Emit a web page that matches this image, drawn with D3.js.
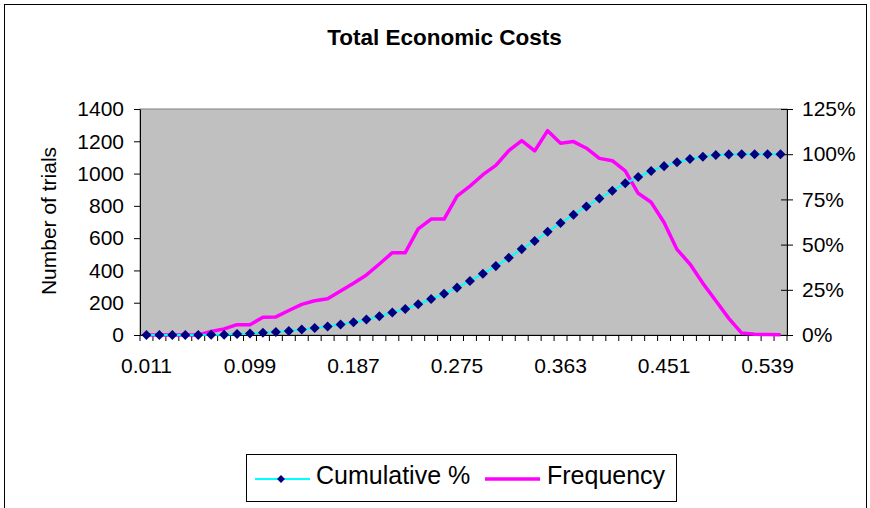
<!DOCTYPE html>
<html>
<head>
<meta charset="utf-8">
<script src="https://cdn.jsdelivr.net/npm/d3@7"></script>
<style>
  html, body { margin: 0; padding: 0; background: #fff; }
  svg { display: block; font-family: "Liberation Sans", Arial, sans-serif; }
</style>
</head>
<body>
<svg id="chart" width="870" height="508"></svg>
<script>
// Bin upper bounds (cost, in the model's units)
const categories = [
  "0.011","0.022","0.033","0.044","0.055","0.066","0.077","0.088","0.099","0.110",
  "0.121","0.132","0.143","0.154","0.165","0.176","0.187","0.198","0.209","0.220",
  "0.231","0.242","0.253","0.264","0.275","0.286","0.297","0.308","0.319","0.330",
  "0.341","0.352","0.363","0.374","0.385","0.396","0.407","0.418","0.429","0.440",
  "0.451","0.462","0.473","0.484","0.495","0.506","0.517","0.528","0.539","0.550"
];

// Number of trials falling in each bin
const frequency = [
  0, 0, 0, 0, 0, 22, 38, 64, 64, 110,
  112, 152, 190, 212, 224, 272, 320, 372, 440, 510,
  510, 657, 718, 718, 860, 922, 993, 1051, 1142, 1204,
  1140, 1266, 1188, 1198, 1157, 1094, 1080, 1016, 878, 822,
  697, 530, 440, 320, 212, 103, 12, 5, 3, 1
];

// Cumulative share of trials up to each bin
const cumulative = [
  0, 0, 0, 0, 0, 0.001, 0.002, 0.005, 0.008, 0.012,
  0.016, 0.022, 0.030, 0.039, 0.047, 0.058, 0.071, 0.086, 0.104, 0.124,
  0.144, 0.170, 0.199, 0.228, 0.262, 0.299, 0.339, 0.381, 0.427, 0.475,
  0.520, 0.571, 0.619, 0.665, 0.711, 0.755, 0.798, 0.839, 0.874, 0.907,
  0.934, 0.956, 0.973, 0.986, 0.995, 0.999, 1.0, 1.0, 1.0, 1.0
];

const leftTicks = [0, 200, 400, 600, 800, 1000, 1200, 1400];
const rightTicks = [0, 0.25, 0.5, 0.75, 1.0, 1.25];
const labelEvery = 8;

const svg = d3.select("#chart");
const plot = { left: 140, right: 787, top: 109, bottom: 335 };

// Outer chart frame
svg.append("rect")
  .attr("x", 4.5).attr("y", 4.5)
  .attr("width", 862).attr("height", 530)
  .attr("fill", "#fff").attr("stroke", "#000").attr("stroke-width", 1);

// Title
svg.append("text")
  .attr("x", 444.5).attr("y", 45)
  .attr("text-anchor", "middle")
  .attr("font-size", 22.5).attr("font-weight", "bold")
  .text("Total Economic Costs");

const x = d3.scaleBand().domain(categories).range([plot.left, plot.right]).padding(0);
const yLeft = d3.scaleLinear().domain([0, 1400]).range([plot.bottom, plot.top]);
const yRight = d3.scaleLinear().domain([0, 1.25]).range([plot.bottom, plot.top]);
const cx = d => x(d) + x.bandwidth() / 2;

// Plot area
svg.append("rect")
  .attr("x", plot.left).attr("y", plot.top)
  .attr("width", plot.right - plot.left).attr("height", plot.bottom - plot.top)
  .attr("fill", "#c0c0c0").attr("stroke", "#808080").attr("stroke-width", 1);

// Left axis: number of trials
const gl = svg.append("g")
  .attr("transform", `translate(${plot.left},0)`)
  .call(d3.axisLeft(yLeft).tickValues(leftTicks).tickFormat(d3.format("d"))
    .tickSize(6).tickSizeOuter(0).tickPadding(10));
gl.selectAll("text").attr("font-size", 21).attr("fill", "#000").attr("font-family", null);
gl.selectAll("line, path").attr("stroke", "#000");

// Right axis: cumulative percentage, ticks crossing the axis
const gr = svg.append("g")
  .attr("transform", `translate(${plot.right},0)`)
  .call(d3.axisRight(yRight).tickValues(rightTicks).tickFormat(d3.format(".0%"))
    .tickSize(6).tickSizeOuter(0).tickPadding(9));
gr.selectAll(".tick line").attr("x1", -6);
gr.selectAll("text").attr("font-size", 21).attr("fill", "#000").attr("font-family", null);
gr.selectAll("line, path").attr("stroke", "#000");

// Bottom axis: labels at bin centres every 8 bins
const gb = svg.append("g")
  .attr("transform", `translate(0,${plot.bottom})`)
  .call(d3.axisBottom(x)
    .tickValues(categories.filter((d, i) => i % labelEvery === 0))
    .tickSize(0).tickSizeOuter(0).tickPadding(23));
gb.selectAll("text").attr("font-size", 21).attr("fill", "#000").attr("font-family", null);
gb.select(".domain").attr("stroke", "#000");

// Tick marks between bins
const boundaries = categories.map(d => x(d)).concat([plot.right]);
gb.selectAll("line.bin-tick")
  .data(boundaries)
  .join("line")
  .attr("class", "bin-tick")
  .attr("x1", d => d).attr("x2", d => d)
  .attr("y1", 0).attr("y2", 6)
  .attr("stroke", "#000");

// Y-axis title
svg.append("text")
  .attr("transform", "translate(56,221) rotate(-90)")
  .attr("text-anchor", "middle")
  .attr("font-size", 21)
  .text("Number of trials");

// Frequency line
svg.append("path")
  .datum(frequency)
  .attr("fill", "none")
  .attr("stroke", "#ff00ff")
  .attr("stroke-width", 3.5)
  .attr("stroke-linejoin", "round")
  .attr("d", d3.line().x((d, i) => cx(categories[i])).y(d => yLeft(d)));

// Cumulative line with diamond markers
svg.append("path")
  .datum(cumulative)
  .attr("fill", "none")
  .attr("stroke", "#00ffff")
  .attr("stroke-width", 2)
  .attr("d", d3.line().x((d, i) => cx(categories[i])).y(d => yRight(d)));

const diamond = d3.symbol().type(d3.symbolDiamond2).size(64);
svg.append("g")
  .selectAll("path")
  .data(cumulative)
  .join("path")
  .attr("transform", (d, i) => `translate(${cx(categories[i])},${yRight(d)})`)
  .attr("d", diamond)
  .attr("fill", "#000080");

// Legend
const lg = svg.append("g");
lg.append("rect")
  .attr("x", 246.5).attr("y", 454.5).attr("width", 430).attr("height", 47)
  .attr("fill", "#fff").attr("stroke", "#000").attr("stroke-width", 1);
lg.append("line")
  .attr("x1", 255).attr("x2", 310).attr("y1", 479).attr("y2", 479)
  .attr("stroke", "#00ffff").attr("stroke-width", 2);
lg.append("path")
  .attr("transform", "translate(281,479)")
  .attr("d", d3.symbol().type(d3.symbolDiamond2).size(40))
  .attr("fill", "#000080");
lg.append("text")
  .attr("x", 316).attr("y", 484)
  .attr("font-size", 25)
  .text("Cumulative %");
lg.append("line")
  .attr("x1", 485).attr("x2", 540).attr("y1", 479).attr("y2", 479)
  .attr("stroke", "#ff00ff").attr("stroke-width", 3.5);
lg.append("text")
  .attr("x", 547).attr("y", 484)
  .attr("font-size", 25)
  .text("Frequency");
</script>
</body>
</html>
